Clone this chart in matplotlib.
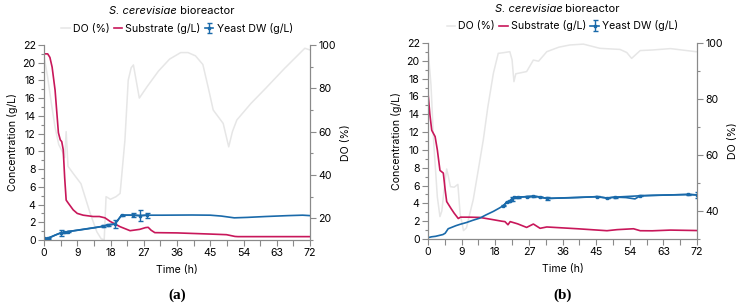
import matplotlib
matplotlib.use('Agg')
import matplotlib.pyplot as plt
from matplotlib.ticker import MultipleLocator

plt.rcParams['font.family'] = ['Inter', 'DejaVu Sans']
plt.rcParams['font.size'] = 7.6

# panel (a)
do_a_t = [0, 1, 2, 3, 4, 5.2, 5.6, 6.0, 6.5, 8, 10, 12.5, 14.3, 15.5, 16.3, 16.8, 18, 19.5,
          20.6, 21.9, 22.8, 23.6, 24.2, 25.8, 28, 31, 34, 37, 39, 41, 43, 44.5, 45.8, 48.5,
          50, 51, 52.2, 56, 60, 65, 70.6, 72]
do_a = [95, 85, 73, 62, 54, 50, 48, 60, 44, 40.5, 36, 22.3, 13.8, 10.5, 10.2, 30, 28.8, 30,
        31.5, 56, 83.8, 89.5, 90.8, 75.5, 81, 88, 93.5, 96.5, 96.5, 95, 91, 80, 70, 63.8,
        53, 60, 65.4, 73, 80, 89, 98.5, 97.7]

sub_a_t = [0, 1, 1.6, 2.2, 3, 3.9, 4.4, 4.8, 5.2, 5.6, 6.0, 6.5, 7.9, 9, 10.6, 13.3, 15,
           16.5, 17.9, 20.6, 23.3, 25.9, 27.5, 28.2, 29, 30, 36, 45, 49.4, 51.7, 52.5, 60, 72]
sub_a = [21.0, 21.0, 20.6, 19.5, 16.9, 12.1, 11.3, 11.1, 10.2, 7.0, 4.5, 4.2, 3.4, 3.0, 2.8,
         2.65, 2.65, 2.5, 2.1, 1.5, 1.05, 1.2, 1.4, 1.43, 1.1, 0.83, 0.8, 0.67, 0.6, 0.4,
         0.38, 0.38, 0.38]

dw_a_t = [0, 1, 2, 3, 4.5, 5.5, 6.5, 10, 14, 16, 17.3, 19.2, 21, 24.2, 26, 28, 32, 40, 45,
          48, 51.5, 55, 60, 66, 70, 72]
dw_a = [0.2, 0.2, 0.35, 0.55, 0.8, 0.85, 0.95, 1.15, 1.4, 1.55, 1.7, 1.8, 2.8, 2.8, 2.75,
        2.8, 2.8, 2.82, 2.8, 2.7, 2.5, 2.55, 2.65, 2.75, 2.8, 2.75]
dwm_a_t = [0, 1, 4.5, 5.5, 6.5, 16, 17.3, 19.2, 21, 24.2, 26, 28]
dwm_a = [0.2, 0.2, 0.8, 0.85, 0.95, 1.55, 1.7, 1.8, 2.8, 2.8, 2.75, 2.8]
dwm_a_err = [0.05, 0.05, 0.35, 0.1, 0.1, 0.1, 0.1, 0.5, 0.05, 0.25, 0.6, 0.3]

# panel (b)
do_b_t = [0, 0.8, 1.5, 2.5, 3.2, 3.7, 4.5, 5, 5.5, 6, 7, 8, 8.6, 9.5, 10.3, 11, 12.1, 13.5,
          14.8, 16, 17.5, 18.8, 20, 21.9, 22.5, 23, 23.5, 26.4, 28.2, 29.6, 31.8, 35, 38,
          41.6, 46, 51.4, 53.2, 54.5, 56.8, 60, 64.9, 71.7, 72]
do_b = [98, 85, 65, 45, 38, 40, 50, 55, 52, 48.7, 48.5, 49.5, 39, 33, 34, 38, 44, 55, 65.4,
        77, 89.2, 96.3, 96.5, 96.9, 94, 86.2, 89, 89.8, 93.9, 93.5, 96.9, 98.5, 99.3, 99.6,
        98.1, 97.7, 96.6, 94.5, 97.3, 97.5, 98, 96.9, 96.9]

sub_b_t = [0, 0.5, 1, 1.9, 2.5, 3.2, 4.1, 4.6, 5, 6.2, 7, 8.1, 8.7, 11, 13.9, 17, 19.7, 20.6,
           21.4, 22, 24, 26.4, 28.2, 30, 31.8, 40, 47.9, 50.6, 55, 56.8, 60, 64.9, 72]
sub_b = [16.4, 14, 12.2, 11.5, 10, 7.7, 7.4, 5.5, 4.2, 3.4, 2.9, 2.3, 2.45, 2.45, 2.42, 2.2,
         2.0, 1.95, 1.6, 1.95, 1.7, 1.3, 1.68, 1.2, 1.35, 1.15, 0.93, 1.05, 1.15, 0.93, 0.92,
         1.0, 0.95]

dw_b_t = [0, 1, 2, 3, 4, 4.6, 5.4, 6.3, 7.5, 8.6, 10.3, 12, 13.9, 15.5, 17.5, 19, 20.2, 21.1,
          22, 22.5, 23, 24, 26.4, 28.2, 30, 31.8, 36, 40, 45.2, 47.9, 50, 53, 55.4, 56.8, 60,
          65, 69.7, 72]
dw_b = [0.15, 0.25, 0.3, 0.4, 0.5, 0.65, 1.15, 1.3, 1.5, 1.65, 1.85, 2.1, 2.35, 2.7, 3.1,
        3.45, 3.75, 4.15, 4.3, 4.5, 4.7, 4.7, 4.75, 4.8, 4.72, 4.55, 4.6, 4.65, 4.75, 4.6,
        4.7, 4.65, 4.5, 4.85, 4.9, 4.95, 5.0, 4.95]
dwm_b_t = [20.2, 21.1, 22, 22.5, 23, 24, 26.4, 28.2, 30, 31.8, 45.2, 47.9, 50, 56.8, 69.7, 72]
dwm_b = [3.75, 4.15, 4.3, 4.5, 4.7, 4.7, 4.75, 4.8, 4.72, 4.55, 4.75, 4.6, 4.7, 4.85, 5.0, 4.95]
dwm_b_err = [0.05, 0.05, 0.05, 0.25, 0.05, 0.05, 0.05, 0.05, 0.05, 0.2, 0.05, 0.05, 0.05,
             0.05, 0.05, 0.3]

c_do = '#e6e6e6'
c_sub = '#c8175a'
c_dw = '#1a6aaa'
c_ax = '#8a8a8a'

fig = plt.figure(figsize=(7.37, 3.05), dpi=100)


def panel(rect, do_t, do, sub_t, sub, dw_t, dw, m_t, m, m_err, do_lim, do_ticks, letter):
    ax = fig.add_axes(rect)
    ax2 = ax.twinx()
    ax.set_zorder(ax2.get_zorder() + 1)
    ax.patch.set_visible(False)

    l_do, = ax2.plot(do_t, do, color=c_do, lw=1.1, label='DO (%)')
    l_sub, = ax.plot(sub_t, sub, color=c_sub, lw=1.2, label='Substrate (g/L)')
    ax.plot(dw_t, dw, color=c_dw, lw=1.2)
    eb = ax.errorbar(m_t, m, yerr=m_err, color=c_dw, lw=1.2, marker='s', ms=1.7,
                     capsize=1.8, capthick=1, elinewidth=1, label='Yeast DW (g/L)')

    ax.set_xlim(0, 72)
    ax.set_ylim(0, 22)
    ax2.set_ylim(*do_lim)
    ax.xaxis.set_major_locator(MultipleLocator(9))
    ax.xaxis.set_minor_locator(MultipleLocator(4.5))
    ax.yaxis.set_major_locator(MultipleLocator(2))
    ax.yaxis.set_minor_locator(MultipleLocator(1))
    ax2.set_yticks(do_ticks)
    ax2.yaxis.set_minor_locator(MultipleLocator(10))

    for a in (ax, ax2):
        for s in a.spines.values():
            s.set_color(c_ax)
        a.spines['top'].set_visible(False)
        a.tick_params(which='major', color=c_ax, length=4, width=0.8, pad=2)
        a.tick_params(which='minor', color=c_ax, length=2.5, width=0.8)
    ax.tick_params(axis='x', which='minor', length=4)

    ax.set_xlabel('Time (h)', labelpad=5)
    ax.set_ylabel('Concentration (g/L)', labelpad=3)
    ax2.set_ylabel('DO (%)', labelpad=4)

    ax.legend([l_do, l_sub, eb], ['DO (%)', 'Substrate (g/L)', 'Yeast DW (g/L)'],
              loc='center', bbox_to_anchor=(0.5, 1.087), ncol=3, frameon=False,
              handlelength=0.8, handletextpad=0.3, columnspacing=0.4, borderpad=0)

    t1 = ax.text(0.5, 1.175, 'S. cerevisiae', transform=ax.transAxes, ha='right',
                 va='center', style='italic', fontsize=8)
    ax.annotate(' bioreactor', xy=(1, 0.5), xycoords=t1, ha='left', va='center', fontsize=8)
    ax.text(0.5, -0.285, letter, transform=ax.transAxes, ha='center', va='center',
            family='Liberation Serif', fontweight='bold', fontsize=11)


panel([44 / 737, 1 - 240 / 305, 266 / 737, 195 / 305], do_a_t, do_a, sub_a_t, sub_a,
      dw_a_t, dw_a, dwm_a_t, dwm_a, dwm_a_err, (10, 100), [20, 40, 60, 80, 100], '(a)')
panel([428 / 737, 1 - 239 / 305, 269 / 737, 196 / 305], do_b_t, do_b, sub_b_t, sub_b,
      dw_b_t, dw_b, dwm_b_t, dwm_b, dwm_b_err, (30, 100), [40, 60, 80, 100], '(b)')

fig.savefig('out.png', dpi=100)
